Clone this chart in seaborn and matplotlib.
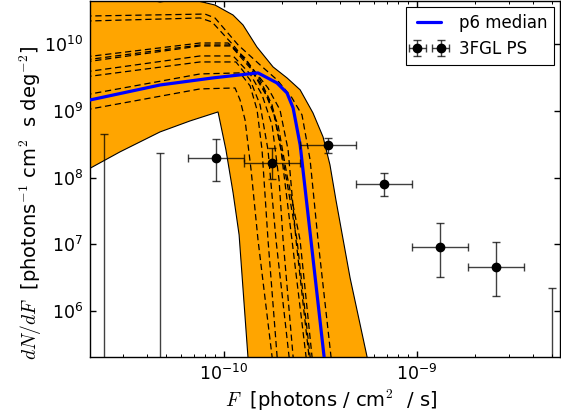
import numpy as np
import pandas as pd
import matplotlib
matplotlib.use("Agg")
import matplotlib.pyplot as plt
import seaborn as sns
from matplotlib.ticker import NullLocator, LogLocator

# ---------------- data ----------------
# posterior band (upper and lower envelope)
band_upper_F = [1.91e-11, 3.67e-11, 4.66e-11, 5.92e-11, 7.33e-11, 8.98e-11, 1.113e-10,
                1.254e-10, 1.48e-10, 1.795e-10, 2.12e-10, 2.48e-10, 2.89e-10, 3.26e-10,
                3.54e-10, 3.80e-10, 4.50e-10, 5.51e-10, 6.05e-10]
band_upper_dnde = [7.2e10, 4.94e10, 4.31e10, 4.78e10, 4.46e10, 3.88e10, 2.75e10,
                   1.95e10, 9.12e9, 4.57e9, 3.13e9, 2.07e9, 9.33e8, 4.07e8,
                   1.55e8, 4.63e7, 3.13e6, 2.05e5, 4.65e4]
band_lower_F = [1.91e-11, 2.89e-11, 4.66e-11, 6.67e-11, 9.31e-11, 1.023e-10, 1.114e-10,
                1.197e-10, 1.33e-10, 1.396e-10]
band_lower_dnde = [1.26e8, 2.43e8, 4.84e8, 7.08e8, 9.66e8, 2.60e8, 5.90e7,
                   1.38e7, 2.05e5, 6.56e4]

# median curve
median_F = [1.91e-11, 4.66e-11, 8.77e-11, 1.50e-10, 1.88e-10, 2.12e-10, 2.28e-10,
            2.48e-10, 2.82e-10, 3.30e-10, 3.42e-10]
median_dnde = [1.41e9, 2.45e9, 3.13e9, 3.72e9, 2.63e9, 1.86e9, 1.11e9,
               3.09e8, 1.16e7, 2.05e5, 6.56e4]

# individual posterior samples (dashed)
sample_F = [
    [1.91e-11, 7.97e-11, 8.98e-11, 1.183e-10, 1.538e-10, 1.884e-10, 2.249e-10, 2.535e-10, 2.793e-10, 3.069e-10, 3.584e-10, 3.759e-10],
    [1.91e-11, 7.52e-11, 8.67e-11, 1.114e-10, 1.397e-10, 1.690e-10, 1.950e-10, 2.148e-10, 2.360e-10, 2.757e-10, 2.891e-10],
    [1.91e-11, 7.52e-11, 1.049e-10, 1.285e-10, 1.538e-10, 1.774e-10, 1.973e-10, 2.249e-10, 2.661e-10, 2.793e-10],
    [1.91e-11, 7.52e-11, 1.074e-10, 1.316e-10, 1.574e-10, 1.816e-10, 2.023e-10, 2.388e-10, 2.793e-10, 2.925e-10],
    [1.91e-11, 7.52e-11, 1.087e-10, 1.365e-10, 1.652e-10, 1.905e-10, 2.118e-10, 2.477e-10, 2.858e-10, 2.999e-10],
    [1.91e-11, 7.52e-11, 1.114e-10, 1.365e-10, 1.574e-10, 1.774e-10, 1.928e-10, 2.023e-10, 2.280e-10, 2.388e-10],
    [1.91e-11, 7.52e-11, 1.153e-10, 1.365e-10, 1.538e-10, 1.690e-10, 1.859e-10, 2.173e-10, 2.280e-10],
    [1.91e-11, 7.52e-11, 1.211e-10, 1.365e-10, 1.483e-10, 1.574e-10, 1.690e-10, 1.884e-10, 1.973e-10],
    [1.91e-11, 7.52e-11, 1.140e-10, 1.211e-10, 1.285e-10, 1.381e-10, 1.500e-10, 1.774e-10, 1.859e-10],
]
sample_dnde = [
    [2.65e10, 2.84e10, 2.48e10, 9.77e9, 4.90e9, 2.92e9, 1.57e9, 8.71e8, 1.84e8, 1.16e7, 2.05e5, 4.65e4],
    [2.23e10, 2.48e10, 2.16e10, 9.77e9, 4.42e9, 2.21e9, 1.035e9, 2.60e8, 1.16e7, 2.05e5, 4.65e4],
    [6.46e9, 1.045e10, 1.045e10, 6.24e9, 2.92e9, 1.23e9, 2.60e8, 1.16e7, 2.05e5, 4.65e4],
    [5.82e9, 9.77e9, 9.77e9, 5.43e9, 2.37e9, 9.66e8, 1.84e8, 1.16e7, 2.05e5, 4.65e4],
    [5.43e9, 9.44e9, 9.44e9, 4.42e9, 1.74e9, 6.17e8, 1.10e8, 1.16e7, 2.05e5, 4.65e4],
    [3.85e9, 6.68e9, 6.68e9, 3.59e9, 1.74e9, 6.17e8, 9.23e7, 1.16e7, 2.05e5, 4.65e4],
    [3.24e9, 5.43e9, 5.43e9, 2.92e9, 1.23e9, 2.60e8, 1.16e7, 2.05e5, 4.65e4],
    [1.74e9, 3.59e9, 3.72e9, 2.37e9, 1.035e9, 2.60e8, 1.16e7, 2.05e5, 4.65e4],
    [1.035e9, 2.14e9, 2.21e9, 1.46e9, 7.33e8, 1.30e8, 1.16e7, 2.05e5, 4.65e4],
]

# 3FGL point sources (binned)
ps_F = [2.39e-11, 4.66e-11, 9.08e-11, 1.77e-10, 3.45e-10, 6.73e-10, 1.31e-9, 2.56e-9, 4.99e-9]
ps_F_lo = [1.71e-11, 3.33e-11, 6.50e-11, 1.268e-10, 2.47e-10, 4.82e-10, 9.40e-10, 1.83e-9, 3.57e-9]
ps_F_hi = [3.33e-11, 6.50e-11, 1.268e-10, 2.47e-10, 4.82e-10, 9.40e-10, 1.83e-9, 3.57e-9, 6.97e-9]
ps_dnde = [0.0, 0.0, 1.97e8, 1.66e8, 3.09e8, 8.04e7, 9.14e6, 4.58e6, 0.0]
ps_dnde_lo = [0.0, 0.0, 8.91e7, 9.55e7, 2.34e8, 5.31e7, 3.24e6, 1.68e6, 0.0]
ps_dnde_hi = [4.48e8, 2.34e8, 3.80e8, 2.79e8, 3.94e8, 1.17e8, 2.09e7, 1.09e7, 2.22e6]

# ---------------- style ----------------
sns.set_theme(style="ticks")
plt.rcParams.update({
    "font.family": ["DejaVu Sans"],
    "mathtext.fontset": "cm",
    "axes.facecolor": "white",
    "axes.edgecolor": "black",
    "axes.linewidth": 1.0,
    "xtick.color": "black",
    "ytick.color": "black",
    "text.color": "black",
    "axes.labelcolor": "black",
})

fig = plt.figure(figsize=(5.61, 4.17), dpi=100)
ax = fig.add_axes([90 / 561, 60 / 417, 470 / 561, 356 / 417])
ax.set_xscale("log")
ax.set_yscale("log")

# band
poly_x = np.concatenate([band_upper_F, band_lower_F[::-1]])
poly_y = np.concatenate([band_upper_dnde, band_lower_dnde[::-1]])
ax.fill(poly_x, poly_y, facecolor="orange", edgecolor="black", linewidth=0.8, zorder=1)

# dashed samples
rows = []
for i, (fx, fy) in enumerate(zip(sample_F, sample_dnde)):
    for a, b in zip(fx, fy):
        rows.append({"sample": i, "F": a, "dNdF": b})
df_s = pd.DataFrame(rows)
sns.lineplot(data=df_s, x="F", y="dNdF", units="sample", estimator=None, sort=False,
             color="black", linewidth=0.9, linestyle=(0, (5, 3)), ax=ax, zorder=2,
             legend=False)

# median
df_m = pd.DataFrame({"F": median_F, "dNdF": median_dnde})
sns.lineplot(data=df_m, x="F", y="dNdF", sort=False, color="#0000ff", linewidth=2.3,
             ax=ax, zorder=3, label="p6 median")

# point sources
F = np.array(ps_F)
xerr = [F - np.array(ps_F_lo), np.array(ps_F_hi) - F]
yv = np.array(ps_dnde)
yerr = [yv - np.array(ps_dnde_lo), np.array(ps_dnde_hi) - yv]
eb = ax.errorbar(F, yv, xerr=xerr, yerr=yerr, fmt="o", color="black", ecolor="black",
                 markersize=6, elinewidth=1.0, capsize=2.8, capthick=1.0, zorder=4,
                 label="3FGL PS")
for c in eb[1]:
    c.set_alpha(0.75)
for c in eb[2]:
    c.set_alpha(0.75)

ax.set_xlim(2.02e-11, 5.51e-9)
ax.set_ylim(2.03e5, 4.46e10)
ax.yaxis.set_minor_locator(NullLocator())
ax.xaxis.set_minor_locator(LogLocator(base=10, subs=np.arange(2, 10) * 1.0, numticks=20))

ax.tick_params(which="both", direction="in", top=True, right=True, labelsize=12.5)
ax.tick_params(which="major", length=4, width=1, pad=5)
ax.tick_params(which="minor", length=2, width=0.7)

ax.set_xlabel(r"$F$  [photons / cm$^2$  / s]", fontsize=14)
ax.set_ylabel(r"$dN/dF$  [photons$^{-1}$ cm$^2$  s deg$^{-2}$]", fontsize=14)
ax.xaxis.set_label_coords(0.513, -0.085)
ax.yaxis.set_label_coords(-0.098, 0.433)

handles, labels = ax.get_legend_handles_labels()
leg = ax.legend(handles, labels, loc="upper right", numpoints=2, fancybox=False,
                framealpha=1, edgecolor="black", fontsize=12, borderaxespad=0.35,
                handlelength=2.0)
leg.get_frame().set_linewidth(0.8)

fig.savefig("out.png", dpi=100)
